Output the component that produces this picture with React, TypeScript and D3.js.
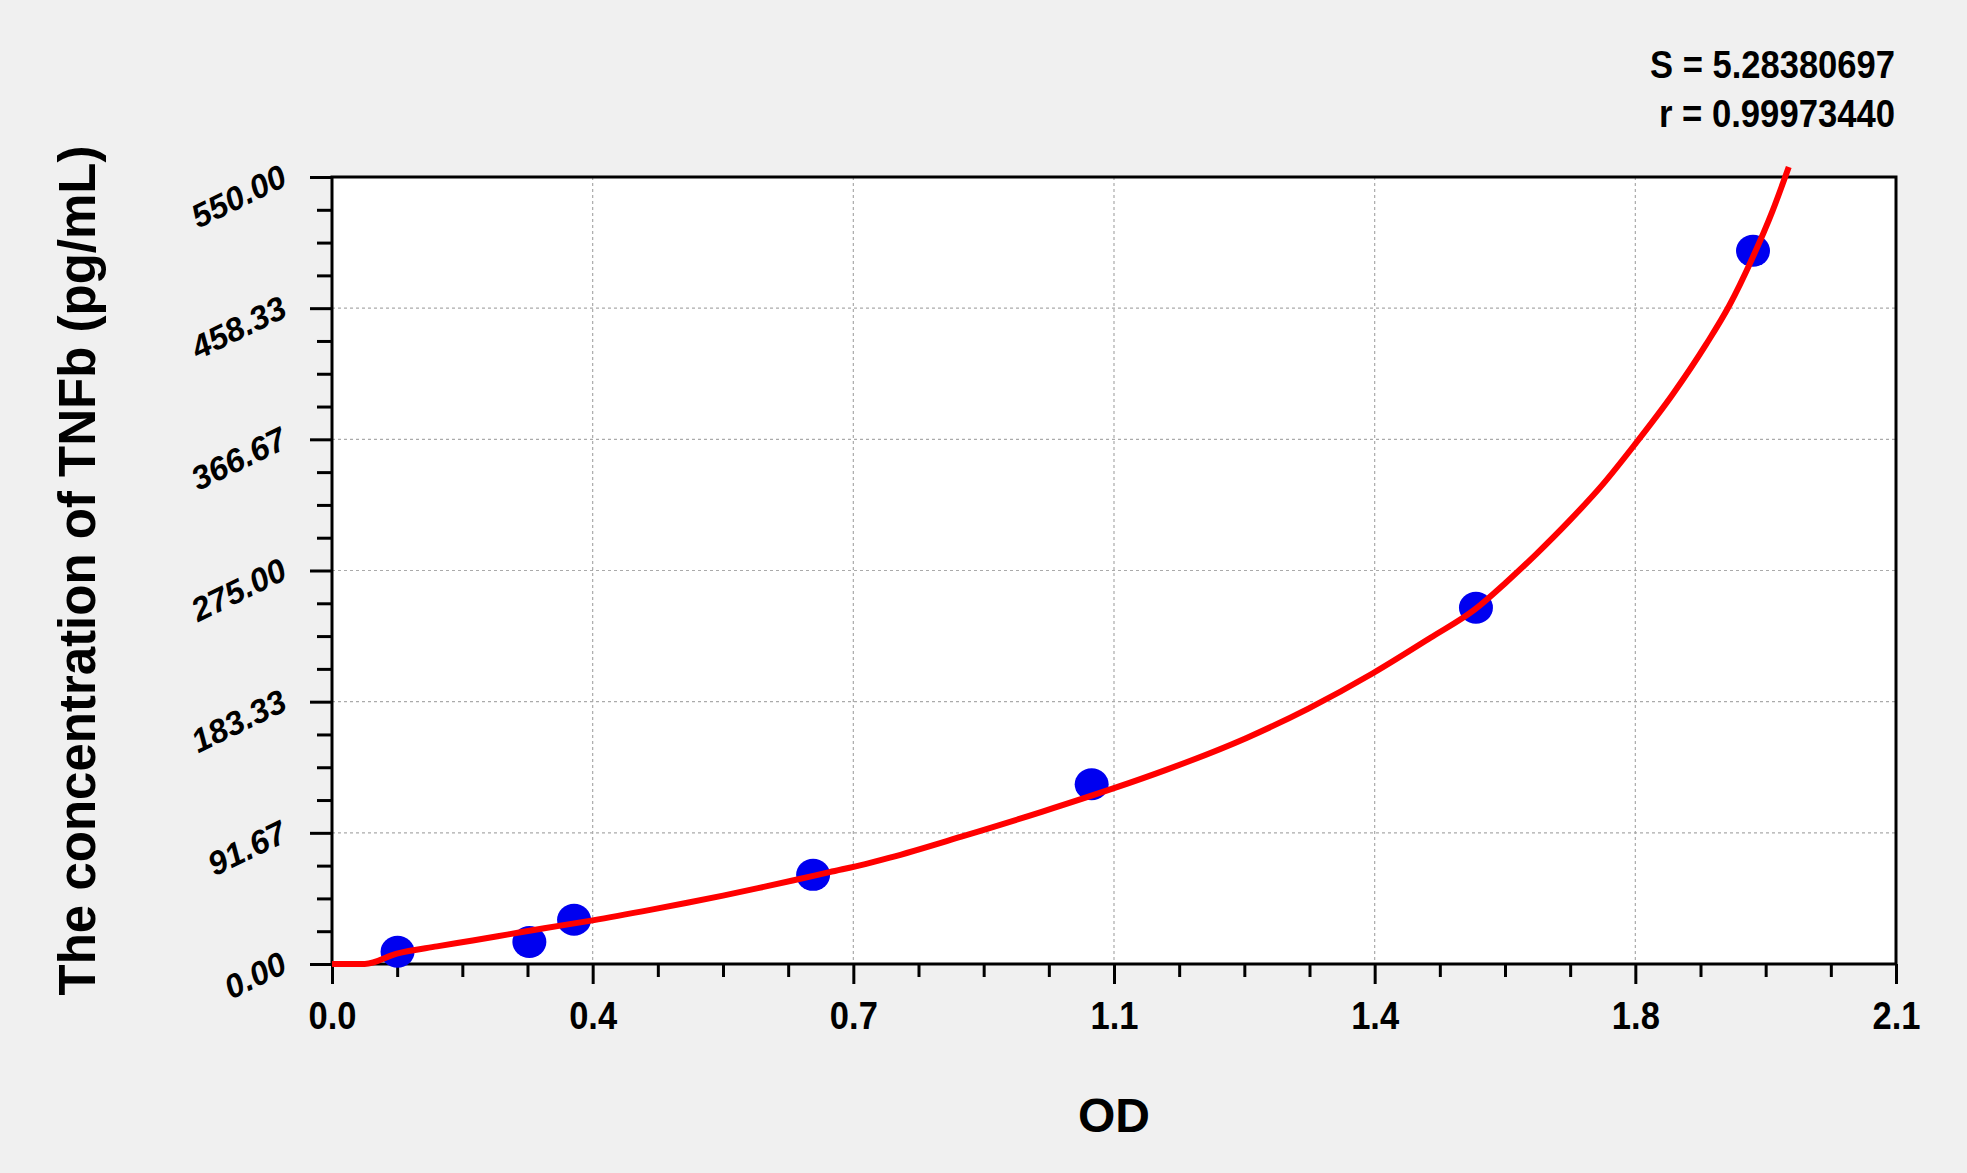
import React, { useRef, useEffect } from 'react';
import * as d3 from 'd3';

// Standard points (OD, concentration)
const standardOd = [0.088, 0.265, 0.325, 0.646, 1.02, 1.536, 1.908];
const standardConc = [8.6, 15.4, 30.9, 62.3, 125.6, 249.0, 498.4];

// Fitted curve
const curveOd = [
  0, 0.044, 0.087, 0.141, 0.189, 0.237, 0.285, 0.35, 0.429, 0.477, 0.525, 0.572,
  0.62, 0.668, 0.716, 0.749, 0.845, 0.954, 1.048, 1.119, 1.228, 1.311, 1.397,
  1.475, 1.535, 1.576, 1.617, 1.661, 1.706, 1.75, 1.8, 1.845, 1.876, 1.906,
  1.934, 1.956
];
const curveConc = [
  0, 0, 7.2, 12.3, 16.4, 20.7, 25.0, 30.5, 38.0, 42.8, 47.8, 53.0,
  58.5, 64.2, 69.8, 74.3, 89.0, 106.5, 122.5, 135.5, 158.0, 178.5, 203.0,
  228.0, 248.0, 266.5, 286.5, 309.5, 335.0, 363.5, 398.0, 433.0, 460.0, 492.0,
  526.0, 557.0
];

const xTicks = [0, 0.35, 0.7, 1.05, 1.4, 1.75, 2.1];
const xTickLabels = ['0.0', '0.4', '0.7', '1.1', '1.4', '1.8', '2.1'];
const yTicks = [0, 91.67, 183.33, 275, 366.67, 458.33, 550];
const yTickLabels = ['0.00', '91.67', '183.33', '275.00', '366.67', '458.33', '550.00'];

const statLines = ['S = 5.28380697', 'r = 0.99973440'];

const WIDTH = 1967;
const HEIGHT = 1173;
const FONT = '"Liberation Sans", Arial, Helvetica, sans-serif';

// 3 minor ticks between each pair of majors
const minorBetween = (majors: number[]) => {
  const out: number[] = [];
  for (let i = 0; i < majors.length - 1; i++) {
    const step = (majors[i + 1] - majors[i]) / 4;
    for (let k = 1; k < 4; k++) out.push(majors[i] + step * k);
  }
  return out;
};

const StandardCurve: React.FC = () => {
  const svgRef = useRef<SVGSVGElement>(null);

  useEffect(() => {
    if (!svgRef.current) return;
    const svg = d3.select(svgRef.current);
    svg.selectAll('*').remove();

    const margin = { top: 177, right: 71, bottom: 209, left: 332 };
    const innerWidth = WIDTH - margin.left - margin.right;
    const innerHeight = HEIGHT - margin.top - margin.bottom;

    svg.append('rect')
      .attr('width', WIDTH)
      .attr('height', HEIGHT)
      .attr('fill', '#f0f0f0');

    const xScale = d3.scaleLinear().domain([0, 2.1]).range([0, innerWidth]);
    const yScale = d3.scaleLinear().domain([0, 550]).range([innerHeight, 0]);

    const g = svg.append('g')
      .attr('transform', `translate(${margin.left}, ${margin.top})`);

    // plot area
    g.append('rect')
      .attr('width', innerWidth)
      .attr('height', innerHeight)
      .attr('fill', '#ffffff');

    // dashed grid
    g.append('g')
      .selectAll('line')
      .data(xTicks.slice(1, -1))
      .join('line')
      .attr('x1', d => xScale(d)).attr('x2', d => xScale(d))
      .attr('y1', 0).attr('y2', innerHeight)
      .attr('stroke', '#aaaaaa')
      .attr('stroke-width', 1.2)
      .attr('stroke-dasharray', '3,3');

    g.append('g')
      .selectAll('line')
      .data(yTicks.slice(1, -1))
      .join('line')
      .attr('x1', 0).attr('x2', innerWidth)
      .attr('y1', d => yScale(d)).attr('y2', d => yScale(d))
      .attr('stroke', '#aaaaaa')
      .attr('stroke-width', 1.2)
      .attr('stroke-dasharray', '3,3');

    // minor ticks
    const xMinor = g.append('g')
      .attr('transform', `translate(0, ${innerHeight})`)
      .call(d3.axisBottom(xScale).tickValues(minorBetween(xTicks)).tickSize(13).tickFormat(() => ''));
    const yMinor = g.append('g')
      .call(d3.axisLeft(yScale).tickValues(minorBetween(yTicks)).tickSize(15).tickFormat(() => ''));

    // major ticks + labels
    const xAxis = g.append('g')
      .attr('transform', `translate(0, ${innerHeight})`)
      .call(d3.axisBottom(xScale).tickValues(xTicks).tickSize(20)
        .tickFormat((_, i) => xTickLabels[i]));
    const yAxis = g.append('g')
      .call(d3.axisLeft(yScale).tickValues(yTicks).tickSize(22)
        .tickFormat((_, i) => yTickLabels[i]));

    [xMinor, yMinor, xAxis, yAxis].forEach(ax => {
      ax.select('.domain').remove();
      ax.selectAll('line').attr('stroke', '#000').attr('stroke-width', 3);
    });

    xAxis.selectAll('text')
      .attr('y', 65)
      .attr('dy', null)
      .attr('fill', '#000')
      .attr('textLength', 48)
      .attr('lengthAdjust', 'spacingAndGlyphs')
      .style('font-family', FONT)
      .style('font-size', '38px')
      .style('font-weight', 'bold');

    yAxis.selectAll('text')
      .attr('x', 0)
      .attr('dy', null)
      .attr('text-anchor', 'end')
      .attr('transform', 'translate(-43, 7) rotate(-26)')
      .attr('fill', '#000')
      .style('font-family', FONT)
      .style('font-size', '33px')
      .style('font-weight', 'bold')
      .style('font-style', 'italic');

    // frame
    g.append('rect')
      .attr('width', innerWidth)
      .attr('height', innerHeight)
      .attr('fill', 'none')
      .attr('stroke', '#000')
      .attr('stroke-width', 3);

    // standards
    g.append('g')
      .selectAll('ellipse')
      .data(standardOd)
      .join('ellipse')
      .attr('cx', d => xScale(d))
      .attr('cy', (_, i) => yScale(standardConc[i]))
      .attr('rx', 17)
      .attr('ry', 16)
      .attr('fill', '#0000f0');

    // fitted curve (not clipped, it runs past the top)
    const line = d3.line<number>()
      .x(d => xScale(d))
      .y((_, i) => yScale(curveConc[i]))
      .curve(d3.curveMonotoneX);

    g.append('path')
      .datum(curveOd)
      .attr('fill', 'none')
      .attr('stroke', '#ff0000')
      .attr('stroke-width', 6)
      .attr('stroke-linejoin', 'round')
      .attr('d', line);

    // axis titles
    g.append('text')
      .attr('x', innerWidth / 2)
      .attr('y', innerHeight + 168)
      .attr('text-anchor', 'middle')
      .style('font-family', FONT)
      .style('font-size', '48px')
      .style('font-weight', 'bold')
      .text('OD');

    g.append('text')
      .attr('transform', `translate(-237, ${innerHeight / 2}) rotate(-90)`)
      .attr('text-anchor', 'middle')
      .style('font-family', FONT)
      .style('font-size', '51px')
      .style('font-weight', 'bold')
      .text('The concentration of TNFb (pg/mL)');

    // fit statistics
    g.append('g')
      .selectAll('text')
      .data(statLines)
      .join('text')
      .attr('x', innerWidth - 1)
      .attr('y', (_, i) => -99 + i * 49)
      .attr('text-anchor', 'end')
      .attr('textLength', (_, i) => (i === 0 ? 245 : 236))
      .attr('lengthAdjust', 'spacingAndGlyphs')
      .style('font-family', FONT)
      .style('font-size', '38px')
      .style('font-weight', 'bold')
      .text(d => d);
  }, []);

  return (
    <svg
      ref={svgRef}
      width={WIDTH}
      height={HEIGHT}
      style={{ position: 'absolute', left: 0, top: 0, display: 'block' }}
    />
  );
};

export default function App() {
  return <StandardCurve />;
}
